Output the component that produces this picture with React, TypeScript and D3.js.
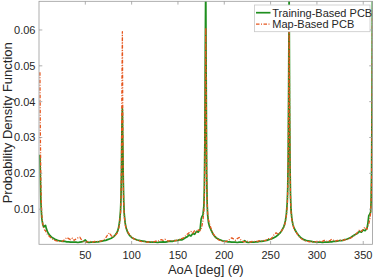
import React from "react";
import * as d3 from "d3";

const aoa = [
  1, 1.5, 2, 2.5, 3, 4, 5, 6, 7, 8, 9, 10, 12, 14, 16, 18, 20,
  22, 24, 26, 28, 30, 32, 34, 36, 38, 40, 42, 44, 46, 48, 50, 52, 54, 56, 58, 60, 62, 64, 66, 68, 70, 72, 74, 76, 78,
  80, 82, 84, 85, 86, 87, 88, 88.5, 89, 89.5, 90, 90.5, 91, 91.5, 92, 93, 94, 95, 96, 98, 100,
  102, 104, 106, 108, 110, 112, 114, 116, 118, 120, 122, 124, 126, 128, 130, 132, 134, 136, 138, 140, 142, 144, 146, 148, 150, 152, 154, 156, 158, 160, 162, 164, 166,
  168, 170, 172, 174, 175, 176, 177, 178, 178.5, 179, 179.5, 180, 180.5, 181, 181.5, 182, 183, 184, 185, 186, 188, 190,
  192, 194, 196, 198, 200, 202, 204, 206, 208, 210, 212, 214, 216, 218, 220, 222, 224, 226, 228, 230, 232, 234, 236, 238, 240, 242, 244, 246, 248, 250, 252, 254, 256,
  258, 260, 262, 264, 265, 266, 267, 268, 268.5, 269, 269.5, 270, 270.5, 271, 271.5, 272, 273, 274, 275, 276, 278, 280,
  282, 284, 286, 288, 290, 292, 294, 296, 298, 300, 302, 304, 306, 308, 310, 312, 314, 316, 318, 320, 322, 324, 326, 328, 330, 332, 334, 336, 338, 340, 342, 344,
  346, 348, 350, 352, 354, 355, 356, 357, 358, 358.5, 359, 359.5, 360,
];

const trainingPCB = [
  0.0252, 0.019, 0.0125, 0.0095, 0.0075, 0.0058, 0.005, 0.0053, 0.0055, 0.0045, 0.0038, 0.0033, 0.0026, 0.0021, 0.0018, 0.0015, 0.0013,
  0.0012, 0.0011, 0.001, 0.001, 0.0009, 0.0009, 0.0008, 0.0008, 0.0008, 0.0008, 0.0007, 0.0008, 0.0009, 0.001, 0.0014, 0.0008, 0.0007, 0.0008, 0.0008, 0.0008, 0.0009, 0.0009, 0.001, 0.0011, 0.0012, 0.0013, 0.0015, 0.0017, 0.0019,
  0.0022, 0.0027, 0.0034, 0.004, 0.005, 0.0066, 0.0095, 0.013, 0.02, 0.033, 0.038, 0.028, 0.018, 0.012, 0.0088, 0.0062, 0.0048, 0.004, 0.0034, 0.0026, 0.0021,
  0.0018, 0.0016, 0.0014, 0.0013, 0.0012, 0.0011, 0.001, 0.0009, 0.0009, 0.0008, 0.0008, 0.0008, 0.0008, 0.0007, 0.0008, 0.0008, 0.0009, 0.0008, 0.0009, 0.001, 0.0011, 0.001, 0.0012, 0.0012, 0.0013, 0.0015, 0.0014, 0.0017, 0.002, 0.0023, 0.0028, 0.0025, 0.0032,
  0.003, 0.0038, 0.0036, 0.0045, 0.0072, 0.008, 0.0084, 0.011, 0.016, 0.028, 0.055, 0.075, 0.045, 0.02, 0.012, 0.0085, 0.0062, 0.0052, 0.0046, 0.004, 0.003, 0.0023,
  0.0019, 0.0016, 0.0014, 0.0012, 0.0011, 0.001, 0.0009, 0.0009, 0.0008, 0.0008, 0.0008, 0.0007, 0.0008, 0.0008, 0.0008, 0.0012, 0.0008, 0.0007, 0.0008, 0.0008, 0.0008, 0.0009, 0.0009, 0.001, 0.001, 0.0011, 0.0012, 0.0013, 0.0015, 0.0016, 0.0018, 0.0021, 0.0024,
  0.0028, 0.0033, 0.004, 0.005, 0.0057, 0.0068, 0.0085, 0.012, 0.016, 0.025, 0.045, 0.072, 0.04, 0.022, 0.014, 0.01, 0.0072, 0.0058, 0.005, 0.0044, 0.0035, 0.0028,
  0.0022, 0.0018, 0.0015, 0.0013, 0.0012, 0.0011, 0.001, 0.0009, 0.0009, 0.0008, 0.0008, 0.0008, 0.0007, 0.0008, 0.0008, 0.0008, 0.0009, 0.0009, 0.001, 0.001, 0.0011, 0.0012, 0.0012, 0.0013, 0.0015, 0.0016, 0.0018, 0.002, 0.0024, 0.0027, 0.003, 0.0033,
  0.0038, 0.0036, 0.0042, 0.004, 0.0046, 0.006, 0.0082, 0.0086, 0.0092, 0.012, 0.02, 0.04, 0.075,
];

const mapPCB = [
  0.0482, 0.03, 0.018, 0.012, 0.0085, 0.006, 0.0048, 0.0042, 0.004, 0.0034, 0.003, 0.0027, 0.0022, 0.0018, 0.0014, 0.0012, 0.0011,
  0.001, 0.0009, 0.0012, 0.0016, 0.0021, 0.0018, 0.0015, 0.0019, 0.0013, 0.0017, 0.002, 0.0022, 0.0014, 0.001, 0.0008, 0.0009, 0.0011, 0.0009, 0.0008, 0.001, 0.0009, 0.0011, 0.001, 0.0012, 0.0015, 0.002, 0.0028, 0.0034, 0.0026,
  0.0022, 0.0026, 0.0032, 0.0036, 0.0045, 0.006, 0.009, 0.013, 0.022, 0.045, 0.0595, 0.032, 0.016, 0.011, 0.008, 0.0058, 0.0046, 0.0042, 0.0036, 0.0028, 0.0022,
  0.0018, 0.0015, 0.0013, 0.0012, 0.001, 0.0009, 0.001, 0.0008, 0.0009, 0.0008, 0.001, 0.0009, 0.0011, 0.001, 0.0012, 0.0015, 0.0013, 0.0016, 0.0012, 0.0011, 0.0013, 0.0012, 0.0011, 0.0013, 0.0015, 0.0014, 0.0018, 0.002, 0.0025, 0.003, 0.0034, 0.0038, 0.0033,
  0.004, 0.0036, 0.0042, 0.004, 0.0045, 0.0055, 0.0068, 0.0095, 0.013, 0.024, 0.045, 0.0606, 0.04, 0.019, 0.012, 0.009, 0.007, 0.006, 0.0052, 0.0044, 0.0032, 0.0024,
  0.0018, 0.0014, 0.0012, 0.001, 0.0009, 0.001, 0.0012, 0.0016, 0.002, 0.0017, 0.0013, 0.0018, 0.0021, 0.0014, 0.001, 0.0009, 0.0011, 0.0009, 0.0008, 0.001, 0.0009, 0.0011, 0.001, 0.0012, 0.0011, 0.0013, 0.0012, 0.0015, 0.0018, 0.0016, 0.0022, 0.003, 0.0034,
  0.003, 0.0034, 0.004, 0.0048, 0.0055, 0.0065, 0.0082, 0.011, 0.015, 0.024, 0.042, 0.063, 0.038, 0.02, 0.013, 0.0095, 0.007, 0.0058, 0.0048, 0.0042, 0.0034, 0.0026,
  0.002, 0.0016, 0.0013, 0.0011, 0.001, 0.0009, 0.001, 0.0008, 0.0009, 0.001, 0.0009, 0.0011, 0.001, 0.0013, 0.0011, 0.001, 0.0012, 0.0016, 0.0013, 0.0011, 0.0013, 0.0012, 0.0014, 0.0013, 0.0015, 0.0014, 0.0017, 0.0019, 0.0022, 0.0026, 0.003, 0.0036,
  0.0042, 0.0038, 0.0045, 0.005, 0.0044, 0.0052, 0.006, 0.007, 0.009, 0.012, 0.018, 0.035, 0.066,
];

const xTicks = [50, 100, 150, 200, 250, 300, 350];
const yTicks = [0.01, 0.02, 0.03, 0.04, 0.05, 0.06];
const seriesNames = ["Training-Based PCB", "Map-Based PCB"];

const W = 374;
const H = 277;
const left = 39;
const right = 372.5;
const top = 1.3;
const bottom = 244.3;
const FONT = "'Liberation Sans', Arial, Helvetica, sans-serif";
const GREEN = "#1f8f1f";
const ORANGE = "#e5561e";
const AXIS = "#9a9a9a";
const TEXT = "#262626";

export default function App() {
  const x = d3.scaleLinear().domain([0, 360]).range([left, right]);
  const y = d3.scaleLinear().domain([0.0002, 0.068]).range([bottom, top]);
  const line = d3
    .line<number>()
    .x((_, i) => x(aoa[i]))
    .y((d) => y(d));
  const tl = 3.3;

  return (
    <svg width={W} height={H} style={{ position: "absolute", left: 0, top: 0 }} fontFamily={FONT}>
      <defs>
        <clipPath id="plotclip">
          <rect x={left} y={top} width={right - left} height={bottom - top} />
        </clipPath>
      </defs>
      <rect x={0} y={0} width={W} height={H} fill="#fff" />
      <g clipPath="url(#plotclip)">
        <path d={line(trainingPCB) || ""} fill="none" stroke={GREEN} strokeWidth={1.7} strokeLinejoin="round" />
        <path
          d={line(mapPCB) || ""}
          fill="none"
          stroke={ORANGE}
          strokeWidth={1.3}
          strokeDasharray="3.5,1.5,1,1.5"
          strokeLinejoin="round"
        />
      </g>
      <rect x={left} y={top} width={right - left} height={bottom - top} fill="none" stroke={AXIS} strokeWidth={0.8} />
      {xTicks.map((t) => (
        <g key={"x" + t}>
          <line x1={x(t)} x2={x(t)} y1={bottom} y2={bottom - tl} stroke={AXIS} strokeWidth={0.8} />
          <line x1={x(t)} x2={x(t)} y1={top} y2={top + tl} stroke={AXIS} strokeWidth={0.8} />
          <text x={x(t)} y={259} textAnchor="middle" fontSize={11} fill={TEXT}>
            {t}
          </text>
        </g>
      ))}
      {yTicks.map((t) => (
        <g key={"y" + t}>
          <line x1={left} x2={left + tl} y1={y(t)} y2={y(t)} stroke={AXIS} strokeWidth={0.8} />
          <line x1={right} x2={right - tl} y1={y(t)} y2={y(t)} stroke={AXIS} strokeWidth={0.8} />
          <text x={35.5} y={y(t) + 4} textAnchor="end" fontSize={11} fill={TEXT}>
            {t.toFixed(2)}
          </text>
        </g>
      ))}
      <text x={(left + right) / 2} y={274} textAnchor="middle" fontSize={13} fill={TEXT}>
        AoA [deg] (<tspan fontStyle="italic">θ</tspan>)
      </text>
      <text
        transform={`translate(12.3, ${(top + bottom) / 2}) rotate(-90)`}
        textAnchor="middle"
        fontSize={13}
        fill={TEXT}
      >
        Probability Density Function
      </text>
      <g>
        <rect x={254.5} y={5} width={115.5} height={26.7} fill="#fff" stroke="#c8c8c8" strokeWidth={0.8} />
        <line x1={256} x2={270.5} y1={12.7} y2={12.7} stroke={GREEN} strokeWidth={1.7} />
        <text x={272.3} y={16.6} fontSize={11} fill={TEXT}>
          {seriesNames[0]}
        </text>
        <line x1={256} x2={270.5} y1={24.2} y2={24.2} stroke={ORANGE} strokeWidth={1.3} strokeDasharray="3.5,1.5,1,1.5" />
        <text x={272.3} y={28.1} fontSize={11} fill={TEXT}>
          {seriesNames[1]}
        </text>
      </g>
    </svg>
  );
}
